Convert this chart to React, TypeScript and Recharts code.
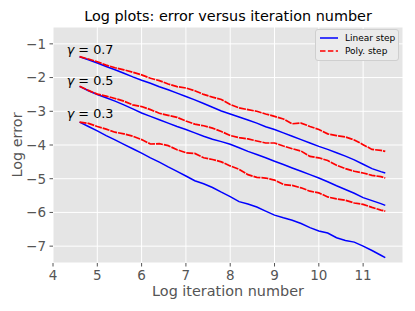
import React from 'react';
import { LineChart, Line, XAxis, YAxis, CartesianGrid, ReferenceDot, Label } from 'recharts';

// log iteration number (x) shared by all six curves
const logN = [4.6, 4.8, 5.0, 5.2, 5.4, 5.6, 5.8, 6.0, 6.2, 6.4, 6.6, 6.8, 7.0, 7.2, 7.4, 7.6, 7.8, 8.0,
  8.2, 8.4, 8.6, 8.8, 9.0, 9.2, 9.4, 9.6, 9.8, 10.0, 10.2, 10.4, 10.6, 10.8, 11.0, 11.2, 11.4, 11.5];

const linear07 = [-1.38, -1.47, -1.57, -1.67, -1.77, -1.87, -1.98, -2.08, -2.17, -2.27, -2.36, -2.46, -2.56, -2.66,
  -2.77, -2.88, -2.99, -3.08, -3.17, -3.26, -3.35, -3.46, -3.54, -3.64, -3.74, -3.84, -3.94, -4.04, -4.13, -4.23,
  -4.33, -4.44, -4.57, -4.70, -4.79, -4.83];
const poly07 = [-1.38, -1.45, -1.53, -1.63, -1.71, -1.77, -1.84, -1.92, -2.02, -2.09, -2.19, -2.27, -2.31, -2.39,
  -2.50, -2.58, -2.65, -2.80, -2.90, -2.95, -3.00, -3.08, -3.15, -3.23, -3.37, -3.35, -3.45, -3.54, -3.67, -3.72,
  -3.76, -3.85, -3.99, -4.13, -4.16, -4.19];
const linear05 = [-2.26, -2.39, -2.50, -2.60, -2.70, -2.81, -2.93, -3.05, -3.15, -3.25, -3.35, -3.45, -3.54, -3.64,
  -3.74, -3.83, -3.90, -3.98, -4.08, -4.19, -4.28, -4.38, -4.48, -4.58, -4.68, -4.78, -4.88, -4.98, -5.09, -5.21,
  -5.32, -5.43, -5.56, -5.65, -5.74, -5.79];
const poly05 = [-2.26, -2.38, -2.49, -2.55, -2.62, -2.70, -2.81, -2.86, -2.95, -3.06, -3.12, -3.18, -3.29, -3.38,
  -3.43, -3.50, -3.60, -3.72, -3.78, -3.82, -3.88, -3.94, -3.94, -4.03, -4.11, -4.18, -4.34, -4.38, -4.46, -4.60,
  -4.70, -4.78, -4.83, -4.90, -4.94, -4.98];
const linear03 = [-3.32, -3.45, -3.58, -3.72, -3.85, -3.98, -4.11, -4.24, -4.38, -4.51, -4.65, -4.78, -4.92, -5.06,
  -5.15, -5.26, -5.40, -5.53, -5.68, -5.75, -5.84, -5.96, -6.08, -6.16, -6.23, -6.33, -6.45, -6.55, -6.61, -6.75,
  -6.83, -6.88, -7.00, -7.13, -7.27, -7.34];
const poly03 = [-3.32, -3.36, -3.45, -3.53, -3.62, -3.67, -3.74, -3.84, -3.97, -3.96, -4.02, -4.14, -4.23, -4.25,
  -4.38, -4.43, -4.50, -4.62, -4.72, -4.88, -4.96, -4.98, -5.04, -5.17, -5.20, -5.27, -5.37, -5.42, -5.54, -5.60,
  -5.64, -5.72, -5.76, -5.85, -5.93, -5.96];

const xTicks = [4, 5, 6, 7, 8, 9, 10, 11];
const yTicks = [-7, -6, -5, -4, -3, -2, -1];

const gammaLabels = ['0.7', '0.5', '0.3'];
const gammaX = [4.31, 4.31, 4.31];
const gammaY = [-1.16, -2.07, -3.04];

const data = logN.map((x, i) => ({
  x,
  lin07: linear07[i], pol07: poly07[i],
  lin05: linear05[i], pol05: poly05[i],
  lin03: linear03[i], pol03: poly03[i],
}));

const FONT = '"DejaVu Sans", sans-serif';
const BLUE = '#0000ff';
const RED = '#ff0000';
const DASH = '5.5 2.4';
const PLOT_DASH = '7 1';

const minus = (v: number) => (v < 0 ? '\u2212' + Math.abs(v) : String(v));

const GammaText = (label: string) => (props: any) => {
  const { viewBox } = props;
  const cx = viewBox.x + viewBox.width / 2;
  const cy = viewBox.y + viewBox.height / 2;
  return (
    <text x={cx} y={cy} dominantBaseline="central" fontFamily={FONT} fontSize={12.8} fill="#000">
      <tspan fontStyle="italic">γ</tspan>
      <tspan> = {label}</tspan>
    </text>
  );
};

const LegendBox = () => (
  <div style={{
    position: 'absolute', left: 315, top: 29, width: 82, height: 30,
    background: '#ebebeb', border: '1px solid #cfcfcf', borderRadius: 3,
    fontFamily: FONT, fontSize: 9, color: '#000',
  }}>
    {[['Linear step', BLUE, undefined], ['Poly. step', RED, DASH]].map(([name, color, dash], i) => (
      <div key={name as string} style={{ position: 'absolute', left: 3, top: 2 + i * 13, height: 12, display: 'flex', alignItems: 'center' }}>
        <svg width={20} height={12} style={{ display: 'block' }}>
          <line x1={1} y1={6} x2={19} y2={6} stroke={color as string} strokeWidth={1.5} strokeDasharray={dash as string | undefined} />
        </svg>
        <span style={{ marginLeft: 6, lineHeight: '12px' }}>{name}</span>
      </div>
    ))}
  </div>
);

export default function App() {
  return (
    <div style={{ position: 'absolute', left: 0, top: 0, width: 415, height: 311, background: '#fff' }}>
      <div style={{
        position: 'absolute', left: 53, width: 350, top: 6, textAlign: 'center',
        fontFamily: FONT, fontSize: 14.4, color: '#000', lineHeight: '20px',
      }}>
        Log plots: error versus iteration number
      </div>
      <LineChart width={415} height={311} data={data} margin={{ top: 27, right: 12, left: 0, bottom: 0 }}>
        <CartesianGrid stroke="#ffffff" strokeWidth={1} fill="#e5e5e5" vertical horizontal />
        <XAxis
          type="number" dataKey="x" domain={[4, 11.9]} ticks={xTicks} allowDataOverflow
          height={48} axisLine={false} tickSize={3.5} tickMargin={4}
          tickLine={{ stroke: '#555555' }}
          tick={{ fill: '#555555', fontSize: 13.5, fontFamily: FONT }}
        >
          <Label value="Log iteration number" position="insideBottom" offset={15}
            style={{ fill: '#555555', fontSize: 14.4, fontFamily: FONT }} />
        </XAxis>
        <YAxis
          type="number" domain={[-7.5, -0.5]} ticks={yTicks} allowDataOverflow
          width={53} axisLine={false} tickSize={3.5} tickMargin={3.5}
          tickLine={{ stroke: '#555555' }} tickFormatter={minus}
          tick={{ fill: '#555555', fontSize: 13.5, fontFamily: FONT }}
        >
          <Label value="Log error" angle={-90} position="insideLeft" offset={17}
            style={{ fill: '#555555', fontSize: 14.4, fontFamily: FONT, textAnchor: 'middle' }} />
        </YAxis>
        <Line dataKey="lin07" stroke={BLUE} strokeWidth={1.5} dot={false} isAnimationActive={false} />
        <Line dataKey="lin05" stroke={BLUE} strokeWidth={1.5} dot={false} isAnimationActive={false} />
        <Line dataKey="lin03" stroke={BLUE} strokeWidth={1.5} dot={false} isAnimationActive={false} />
        <Line dataKey="pol07" stroke={RED} strokeWidth={1.7} strokeDasharray={PLOT_DASH} dot={false} isAnimationActive={false} />
        <Line dataKey="pol05" stroke={RED} strokeWidth={1.7} strokeDasharray={PLOT_DASH} dot={false} isAnimationActive={false} />
        <Line dataKey="pol03" stroke={RED} strokeWidth={1.7} strokeDasharray={PLOT_DASH} dot={false} isAnimationActive={false} />
        {gammaLabels.map((g, i) => (
          <ReferenceDot key={g} x={gammaX[i]} y={gammaY[i]} r={0} fill="none" stroke="none"
            label={{ content: GammaText(g) }} />
        ))}
      </LineChart>
      <LegendBox />
    </div>
  );
}
